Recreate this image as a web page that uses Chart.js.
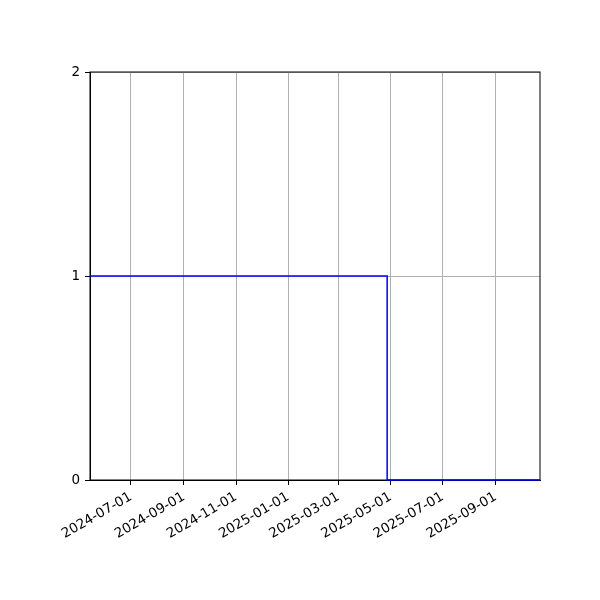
<!DOCTYPE html>
<html>
<head>
<meta charset="utf-8">
<script src="https://cdn.jsdelivr.net/npm/chart.js@4"></script>
<style>
  body { margin: 0; background: #fff; }
  canvas { display: block; }
</style>
</head>
<body>
<canvas id="chart" width="600" height="600"></canvas>
<script>
// step series: value holds until the next date
const dates = ['2024-05-14', '2025-04-27', '2025-10-23'];
const values = [1, 0, 0];

const tickDates = ['2024-07-01', '2024-09-01', '2024-11-01', '2025-01-01',
  '2025-03-01', '2025-05-01', '2025-07-01', '2025-09-01'];
const yTicks = [0, 1, 2];

const toMs = d => Date.parse(d + 'T00:00:00Z');
const fmt = ms => new Date(ms).toISOString().slice(0, 10);

const points = dates.map((d, i) => ({ x: toMs(d), y: values[i] }));

// matplotlib-style box round the plot area
const frame = {
  id: 'frame',
  beforeDatasetsDraw(chart) {
    const { ctx, chartArea: a } = chart;
    ctx.save();
    ctx.strokeStyle = '#000';
    ctx.lineWidth = 1;
    ctx.strokeRect(a.left, a.top, a.right - a.left, a.bottom - a.top);
    ctx.restore();
  }
};

Chart.defaults.font.family = "'DejaVu Sans', sans-serif";
Chart.defaults.font.size = 13.5;
Chart.defaults.color = '#000';

new Chart(document.getElementById('chart').getContext('2d'), {
  type: 'line',
  data: {
    datasets: [{
      data: points,
      borderColor: '#0000ff',
      borderWidth: 1.5,
      pointRadius: 0,
      stepped: 'before',
      fill: false,
      clip: 3
    }]
  },
  options: {
    responsive: false,
    animation: false,
    devicePixelRatio: 1,
    layout: { padding: { top: 72, right: 60, left: 0, bottom: 0 } },
    plugins: { legend: { display: false }, tooltip: { enabled: false } },
    scales: {
      x: {
        type: 'linear',
        min: toMs(dates[0]),
        max: toMs(dates[dates.length - 1]),
        afterBuildTicks: s => { s.ticks = tickDates.map(d => ({ value: toMs(d) })); },
        afterFit: s => { s.height = 120; },
        ticks: {
          callback: v => fmt(v),
          minRotation: 30,
          maxRotation: 30,
          autoSkip: false,
          padding: 4
        },
        grid: { color: '#b0b0b0', lineWidth: 1, tickColor: '#000', tickLength: 5 },
        border: { color: '#000' }
      },
      y: {
        min: 0,
        max: 2,
        afterBuildTicks: s => { s.ticks = yTicks.map(v => ({ value: v })); },
        afterFit: s => { s.width = 90; },
        ticks: { padding: 5 },
        grid: { color: '#b0b0b0', lineWidth: 1, tickColor: '#000', tickLength: 5 },
        border: { color: '#000' }
      }
    }
  },
  plugins: [frame]
});
</script>
</body>
</html>
